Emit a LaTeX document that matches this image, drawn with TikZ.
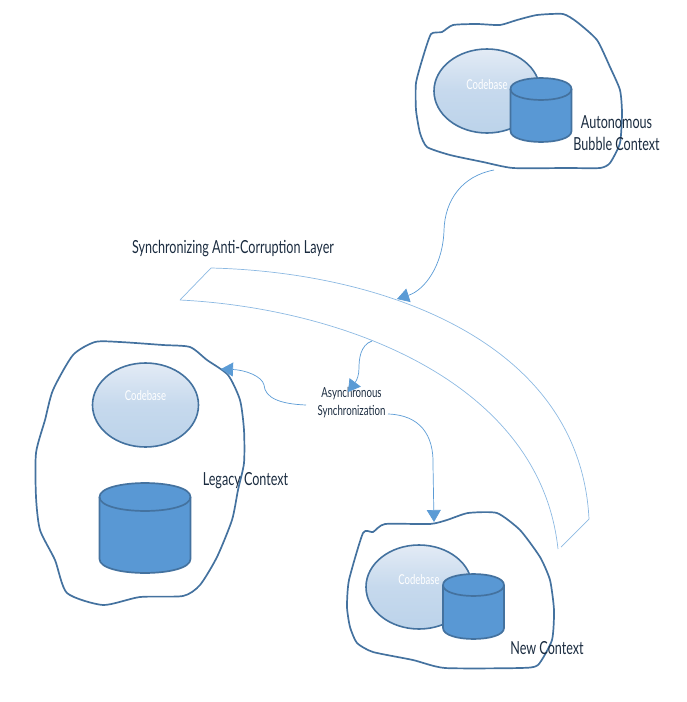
\documentclass[tikz,border=0pt]{standalone}
\usepackage{fontspec}
\usetikzlibrary{arrows.meta,shapes.geometric}
\setmainfont[FakeStretch=0.7]{Lato}
\definecolor{edge}{HTML}{44729F}
\definecolor{fillblue}{HTML}{5998D4}
\definecolor{thin}{HTML}{5B9BD5}
\definecolor{ink}{HTML}{1B2C40}
\definecolor{ctop}{HTML}{E3EBF5}
\definecolor{cmid}{HTML}{C6D9ED}
\definecolor{cbot}{HTML}{BCD3EA}
\tikzset{x=1pt,y=-1pt,
 blob/.style={draw=edge,line width=1.7pt,fill=none},
 code/.style={draw=edge,line width=1.6pt,ellipse,inner sep=0pt,top color=ctop,bottom color=cbot,middle color=cmid,shading angle=0},
 codetext/.style={text=white,font=\fontsize{13.6}{14}\selectfont,inner sep=0pt},
 lab/.style={text=ink,font=\fontsize{18}{22}\selectfont,align=center,inner sep=0pt},
 small/.style={text=ink,font=\fontsize{13.8}{18.5}\selectfont,align=center,inner sep=0pt},
 band/.style={draw=thin!70,line width=0.7pt},
 link/.style={draw=thin,line width=0.7pt,-{Triangle[length=12pt,width=14pt,fill=thin]}}}
\newcommand\cylinderbody[5]{% cx, ytop, rx, ry, height
 \draw[draw=edge,line width=1.7pt,fill=fillblue] (#1-#3,#2) .. controls (#1-#3,#2-#4*1.33) and (#1+#3,#2-#4*1.33) .. (#1+#3,#2)
  -- (#1+#3,#2+#5) .. controls (#1+#3,#2+#5+#4*1.33) and (#1-#3,#2+#5+#4*1.33) .. (#1-#3,#2+#5) -- cycle;
 \draw[draw=edge,line width=1.7pt] (#1-#3,#2) .. controls (#1-#3,#2+#4*1.33) and (#1+#3,#2+#4*1.33) .. (#1+#3,#2);
}
\begin{document}
\begin{tikzpicture}
\useasboundingbox (0,0) rectangle (686,702);
% band
\coordinate (ba) at (211,268); \coordinate (bb) at (180,300);
\coordinate (bc) at (589,519); \coordinate (bd) at (558,549);
\draw[band] (bb) -- (ba) .. controls (380,272) and (580,340) .. (bc) -- (561,547);
\draw[band] (bb) .. controls (340,308) and (540,380) .. (bd);
% top group
\draw[blob] plot[smooth cycle,tension=0.35] coordinates {(431,34)(442,32)(453,25)(477,24)(500,25)(517,20)(537,15)(563,14)(577,22)(597,40)(610,67)(620,90)(622,113)(620,143)(610,163)(600,168)(567,168)(513,168)(483,162)(450,155)(427,147)(420,133)(416,110)(416,83)(423,57)};
\node[code,minimum width=106pt,minimum height=84pt] (e1) at (487,91) {};
\node[codetext] (t1) at (487,85) {Codebase};
\cylinderbody{541}{89}{30.5}{11}{42}
\node[lab] (l1) at (616.5,133) {Autonomous\\Bubble Context};
% legacy group
\draw[blob] plot[smooth cycle,tension=0.4] coordinates {(95,342)(120,342)(163,345)(190,347)(207,360)(228,375)(240,400)(244,430)(244,463)(238,490)(232,520)(217,557)(200,585)(183,596)(140,597)(103,605)(67,593)(55,560)(40,530)(36,497)(36,453)(45,420)(53,390)(73,355)};
\node[code,minimum width=106pt,minimum height=84pt] (e2) at (145.5,405) {};
\node[codetext] (t2) at (145.5,396) {Codebase};
\cylinderbody{145}{497}{45.5}{14}{62}
\node[lab] (l2) at (245.5,481) {Legacy Context};
% new group
\draw[blob] plot[smooth cycle,tension=0.35] coordinates {(363,533)(373,532)(385,524)(430,524)(447,520)(468,513)(497,513)(520,530)(540,557)(550,580)(554,610)(552,640)(538,665)(520,668)(445,668)(413,660)(373,652)(357,643)(350,627)(347,607)(349,580)};
\node[code,minimum width=106pt,minimum height=84pt] (e3) at (419,587) {};
\node[codetext] (t3) at (419,580) {Codebase};
\cylinderbody{473.5}{585}{30.5}{11}{43}
\node[lab] (l3) at (547,648) {New Context};
% labels
\node[lab] (l4) at (233,248.5) {Synchronizing Anti-Corruption Layer};
\node[small] (sync) at (351.5,402.5) {Asynchronous\\Synchronization};
% connectors
\coordinate (s1) at (494,170); \coordinate (h1) at (397,299);
\draw[link] (s1) .. controls (462,176) and (445,200) .. (444,230) .. controls (443,265) and (425,290) .. (h1);
\coordinate (s2) at (372,341); \coordinate (h2) at (348,392);
\draw[link] (s2) .. controls (360,345) and (359,360) .. (359,368) .. controls (359,375) and (357,380) .. (h2);
\coordinate (s3) at (306,405); \coordinate (h3) at (221,369);
\draw[link] (s3) .. controls (280,404) and (265,398) .. (264,385) .. controls (262,376) and (245,370) .. (h3);
\coordinate (s4) at (388,414); \coordinate (h4) at (434,522);
\draw[link] (s4) .. controls (420,415) and (434,435) .. (433,465) -- (h4);
\end{tikzpicture}
\end{document}
